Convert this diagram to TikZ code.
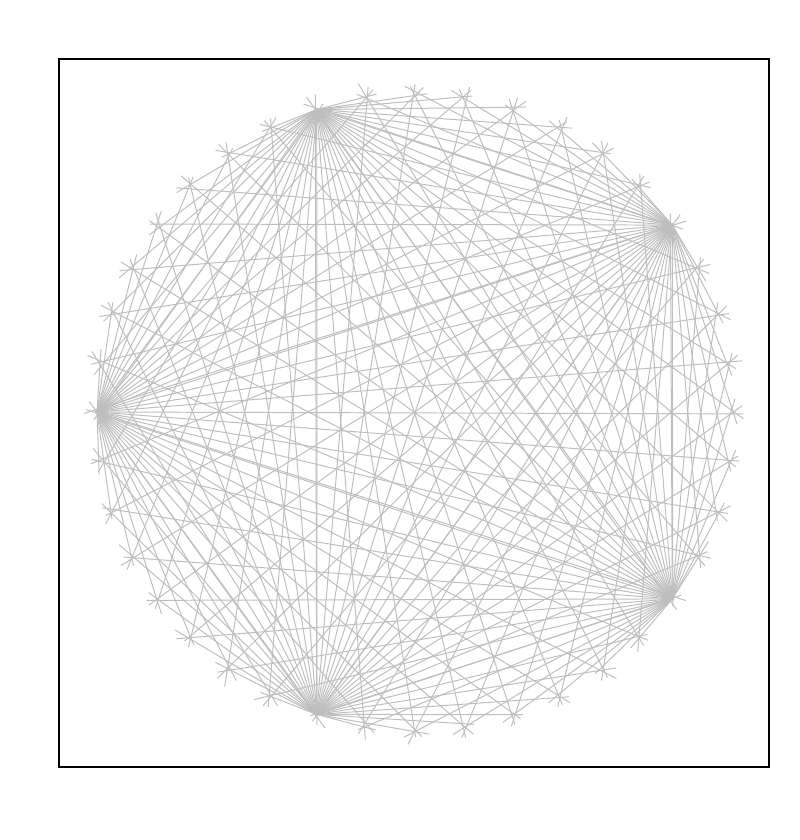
\documentclass[tikz,border=0pt]{standalone}
\usepackage{xcolor}
\usepackage{tikz}
\usetikzlibrary{calc}
\definecolor{chordgray}{RGB}{190,190,190}

\begin{document}
\begin{tikzpicture}[
  ch/.style={draw=chordgray,line width=0.7pt,shorten <=-1pt,shorten >={-(6+5*rnd)*1pt}},
  fr/.style={draw=black,line width=0.8pt}]
 \pgfmathsetseed{11}
 \useasboundingbox (0,0) rectangle (20,21);
 % frame
 \draw[fr] (1.475,1.825) rectangle (19.225,19.525);
 % points on the circle
 \coordinate (o) at (10.375,10.7);
 \foreach \k in {0,...,39}
   \coordinate (p\k) at ($(o)+({180-9*\k}:7.95)$);
 % chords from the five hubs
 \foreach \h in {0,8,16,24,32}
   \foreach \k in {0,...,39}
     {\ifnum\k=\h\else
       \draw[ch] (p\h) -- ($(p\k)+({0.06*rand},{0.06*rand})$);
      \fi}
\end{tikzpicture}
\end{document}
